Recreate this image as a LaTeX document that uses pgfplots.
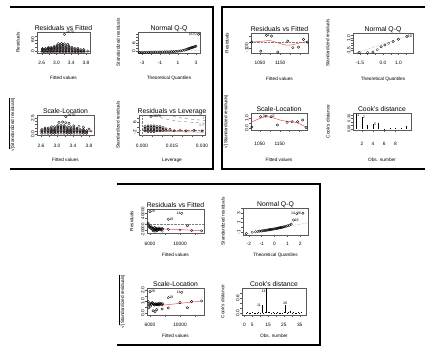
\documentclass[border=0pt]{standalone}
\usepackage{pgfplots}
\pgfplotsset{compat=1.18}
\usepackage{fontspec}
\setmainfont{Liberation Sans}
\newfontfamily\djv{DejaVu Sans}
\definecolor{lowess}{RGB}{232,80,90}
\newcommand{\lf}{\fontsize{3.6}{4}\selectfont}
\newcommand{\sqlab}{{\djv √}$\overline{\mbox{|Standardized residuals|}}$}
\pgfplotsset{
 rp/.style={scale only axis, anchor=north west, clip=false,
  axis line style={black!65, line width=0.45pt},
  tick align=outside, tick pos=left, major tick length=1.8pt,
  tick style={black!65, line width=0.35pt},
  tick label style={font=\fontsize{4.8}{5.2}\selectfont, inner sep=0.6pt},
  yticklabel style={rotate=90, anchor=south},
  every axis title/.style={at={(0.5,1)}, anchor=base, yshift=1.8pt, inner sep=0pt, font=\fontsize{6.8}{7}\selectfont},
  label style={font=\fontsize{4.7}{5}\selectfont, inner sep=0pt},
  xlabel style={anchor=center}, ylabel style={anchor=center},
  scaled ticks=false,
 },
 lab/.style 2 args={xlabel style={at={(axis description cs:0.5,#1)}}, ylabel style={at={(axis description cs:#2,0.5)}}},
 xts/.style={xticklabel style={yshift=#1}},
 pts/.style={only marks, mark=o, mark size=1.25pt, mark options={line width=0.3pt, black}},
 lw/.style={lowess, line width=0.5pt, no marks, smooth},
 gd/.style={gray, densely dotted, line width=0.4pt, no marks},
 cd/.style={gray, dashed, line width=0.4pt, no marks, smooth},
}
\begin{document}
\begin{tikzpicture}
\useasboundingbox (0pt,0pt) rectangle (442pt,353pt);
% panel frames
\draw[line width=1.2pt] (10pt,346pt) -- (213pt,346pt) -- (213pt,184pt) -- (10pt,184pt);
\draw[line width=1.2pt] (425pt,346pt) -- (222pt,346pt) -- (222pt,184pt) -- (425pt,184pt);
\draw[line width=1.2pt] (117pt,169pt) -- (320pt,169pt) -- (320pt,8pt) -- (117pt,8pt);

% ===== Panel 1: Residuals vs Fitted
\begin{axis}[rp, at={(37pt,321pt)}, width=53pt, height=21pt, lab={-1.19}{-0.36}, xts=-5.5pt,
 xmin=2.47, xmax=3.91, ymin=-8, ymax=100,
 xtick={2.6,2.8,3.0,3.2,3.4,3.6,3.8}, xticklabels={2.6,{},3.0,{},3.4,{},3.8},
 ytick={0,20,40,60,80}, yticklabels={0,{},{},60,{}},
 title={Residuals vs Fitted}, xlabel={Fitted values}, ylabel={Residuals}]
\addplot[gd] coordinates {(2.47,0)(3.91,0)};
\addplot[pts] coordinates {
(2.62,-3)(2.62,3)(2.62,9)(2.62,15)
(2.70,-3)(2.70,3)(2.70,9)(2.70,15)
(2.78,-3)(2.78,3)(2.78,9)(2.78,15)(2.78,21)
(2.86,-3)(2.86,3)(2.86,9)(2.86,15)(2.86,21)
(2.94,-3)(2.94,3)(2.94,9)(2.94,15)(2.94,21)(2.94,27)
(3.02,-3)(3.02,3)(3.02,9)(3.02,15)(3.02,21)(3.02,27)(3.02,33)
(3.10,-3)(3.10,3)(3.10,9)(3.10,15)(3.10,21)(3.10,27)(3.10,33)
(3.18,-3)(3.18,3)(3.18,9)(3.18,15)(3.18,21)(3.18,27)(3.18,33)
(3.26,-3)(3.26,3)(3.26,9)(3.26,15)(3.26,21)(3.26,27)
(3.34,-3)(3.34,3)(3.34,9)(3.34,15)(3.34,21)(3.34,27)
(3.42,-3)(3.42,3)(3.42,9)(3.42,15)(3.42,21)
(3.50,-3)(3.50,3)(3.50,9)(3.50,15)
(3.58,-3)(3.58,3)(3.58,9)(3.58,15)
(3.66,-3)(3.66,3)(3.66,9)
(3.74,-3)(3.74,3)(3.74,9)
(3.05,40)(3.14,41)(3.22,39)(3.30,37)(3.85,2)(3.22,88)};
\addplot[lw] coordinates {(2.55,1)(2.9,0)(3.2,-1)(3.5,-2)(3.85,-2)};
\node[font=\lf, anchor=south west, inner sep=0.5pt] at (axis cs:3.24,86) {1670};
\end{axis}

% ===== Panel 1: Normal Q-Q
\begin{axis}[rp, at={(138pt,321pt)}, width=62pt, height=21pt, lab={-1.19}{-0.32}, xts=-5.5pt,
 xmin=-3.45, xmax=3.45, ymin=-1, ymax=13.3,
 xtick={-3,-2,-1,0,1,2,3}, xticklabels={-3,{},-1,{},1,{},3},
 ytick={0,2,4,6,8,10,12}, yticklabels={0,{},{},6,{},{},{}},
 title={Normal Q-Q}, xlabel={Theoretical Quantiles}, ylabel={Standardized residuals}]
\addplot[gd] coordinates {(-3.45,-0.9)(3.45,0.9)};
\addplot[pts] coordinates {
(-3.3,-0.7)(-3.1,-0.65)(-2.9,-0.6)(-2.7,-0.55)(-2.5,-0.5)(-2.3,-0.5)(-2.1,-0.45)(-1.9,-0.45)(-1.7,-0.4)(-1.5,-0.4)
(-1.3,-0.35)(-1.1,-0.35)(-0.9,-0.3)(-0.7,-0.3)(-0.5,-0.25)(-0.3,-0.2)(-0.1,-0.2)(0.1,-0.15)(0.3,-0.1)(0.5,-0.05)
(0.7,0.05)(0.9,0.15)(1.1,0.3)(1.3,0.45)(1.5,0.7)(1.7,0.95)(1.9,1.3)(2.0,1.55)(2.1,1.8)(2.2,2.0)(2.3,2.2)
(2.4,2.4)(2.5,2.6)(2.6,2.8)(2.7,3.0)(2.8,3.2)(2.9,3.4)(3.0,3.7)(3.3,11.8)};
\node[font=\lf, anchor=east, inner sep=0.5pt] at (axis cs:3.15,11.8) {1670};
\end{axis}

% ===== Panel 1: Scale-Location
\begin{axis}[rp, at={(37pt,238pt)}, width=57pt, height=20pt, lab={-1.25}{-0.44}, xts=-6.5pt,
 xmin=2.5, xmax=3.925, ymin=-0.12, ymax=3.0,
 xtick={2.6,2.8,3.0,3.2,3.4,3.6,3.8}, xticklabels={2.6,{},3.0,{},3.4,{},3.8},
 ytick={0,0.5,1,1.5,2,2.5}, yticklabels={0.0,{},{},{},{},2.5},
 title={Scale-Location}, xlabel={Fitted values}, ylabel={\sqlab}]
\addplot[pts] coordinates {
(2.62,0.15)(2.62,0.35)(2.62,0.55)(2.62,0.75)
(2.70,0.15)(2.70,0.35)(2.70,0.55)(2.70,0.75)(2.70,0.95)
(2.78,0.15)(2.78,0.35)(2.78,0.55)(2.78,0.75)(2.78,0.95)
(2.86,0.15)(2.86,0.35)(2.86,0.55)(2.86,0.75)(2.86,0.95)(2.86,1.15)
(2.94,0.15)(2.94,0.35)(2.94,0.55)(2.94,0.75)(2.94,0.95)(2.94,1.15)
(3.02,0.15)(3.02,0.35)(3.02,0.55)(3.02,0.75)(3.02,0.95)(3.02,1.15)(3.02,1.35)
(3.10,0.15)(3.10,0.35)(3.10,0.55)(3.10,0.75)(3.10,0.95)(3.10,1.15)(3.10,1.35)
(3.18,0.15)(3.18,0.35)(3.18,0.55)(3.18,0.75)(3.18,0.95)(3.18,1.15)(3.18,1.35)
(3.26,0.15)(3.26,0.35)(3.26,0.55)(3.26,0.75)(3.26,0.95)(3.26,1.15)
(3.34,0.15)(3.34,0.35)(3.34,0.55)(3.34,0.75)(3.34,0.95)(3.34,1.15)
(3.42,0.15)(3.42,0.35)(3.42,0.55)(3.42,0.75)(3.42,0.95)
(3.50,0.15)(3.50,0.35)(3.50,0.55)(3.50,0.75)(3.50,0.95)
(3.58,0.15)(3.58,0.35)(3.58,0.55)(3.58,0.75)
(3.66,0.15)(3.66,0.35)(3.66,0.55)(3.66,0.75)
(3.74,0.15)(3.74,0.35)(3.74,0.55)
(3.05,1.85)(3.14,1.9)(3.22,1.8)(3.30,1.7)(3.42,1.3)(3.55,1.25)(3.66,1.1)(3.8,0.8)(3.85,0.5)(3.22,2.75)};
\addplot[lw] coordinates {(2.55,0.5)(2.9,0.47)(3.3,0.45)(3.6,0.42)(3.88,0.4)};
\node[font=\lf, anchor=south west, inner sep=0.5pt] at (axis cs:3.24,2.7) {1670};
\end{axis}

% ===== Panel 1: Residuals vs Leverage
\begin{axis}[rp, at={(139pt,238pt)}, width=66pt, height=20pt, lab={-1.25}{-0.32}, xts=-6.5pt,
 xmin=-0.0015, xmax=0.0315, ymin=-4.4, ymax=12.4,
 xtick={0,0.005,0.01,0.015,0.02,0.025,0.03}, xticklabels={0.000,{},{},0.015,{},{},0.030},
 ytick={-2,2,6,10}, yticklabels={-2,{},6,{}},
 title={Residuals vs Leverage}, xlabel={Leverage}, ylabel={Standardized residuals}]
\addplot[gd] coordinates {(-0.0015,0)(0.0315,0)};
\addplot[gd] coordinates {(0,-4.4)(0,12.4)};
\addplot[cd] coordinates {(0.0065,12.37)(0.008,11.1)(0.01,9.95)(0.0125,8.87)(0.015,8.09)(0.0175,7.47)(0.02,6.98)(0.025,6.24)(0.03,5.69)(0.0315,5.55)};
\addplot[cd] coordinates {(0.0127,12.37)(0.015,11.4)(0.0175,10.6)(0.02,9.9)(0.025,8.83)(0.03,8.05)(0.0315,7.85)};
\addplot[pts] coordinates {
(0.0015,-1)(0.0015,0.2)(0.0015,1.4)(0.0015,2.6)
(0.003,-1.6)(0.003,-0.4)(0.003,0.8)(0.003,2)(0.003,3.2)
(0.0045,-1.6)(0.0045,-0.4)(0.0045,0.8)(0.0045,2)(0.0045,3.2)
(0.006,-1.6)(0.006,-0.4)(0.006,0.8)(0.006,2)(0.006,3.2)
(0.0075,-1)(0.0075,0.2)(0.0075,1.4)(0.0075,2.6)
(0.009,-1)(0.009,0.2)(0.009,1.4)(0.009,2.6)
(0.0105,-0.6)(0.0105,0.6)(0.0105,1.8)
(0.012,-0.4)(0.012,0.8)
(0.014,0.3)(0.016,-0.8)(0.019,-0.2)(0.022,-1)(0.026,-0.5)(0.03,-0.9)
(0.0045,11.3)};
\addplot[lw] coordinates {(0.001,-1.0)(0.008,-1.2)(0.016,-1.5)(0.024,-1.8)(0.031,-2.0)};
\node[font=\lf, anchor=west, inner sep=0.5pt] at (axis cs:0.0052,11.3) {1670};
\node[font=\lf, text=gray, anchor=north east, inner sep=0.5pt] at (axis cs:0.0315,5.3) {0.5};
\node[font=\lf, text=gray, anchor=south east, inner sep=0.5pt] at (axis cs:0.0315,8.1) {1};
\end{axis}

% ===== Panel 2: Residuals vs Fitted
\begin{axis}[rp, at={(251pt,320pt)}, width=57pt, height=20pt, lab={-1.3}{-0.42}, xts=-5.5pt,
 xmin=1006, xmax=1287, ymin=-190, ymax=150,
 xtick={1050,1100,1150,1200,1250}, xticklabels={1050,{},1150,{},{}},
 ytick={-100,0,100}, yticklabels={-100,{},{}},
 title={Residuals vs Fitted}, xlabel={Fitted values}, ylabel={Residuals}]
\addplot[gd] coordinates {(1006,0)(1287,0)};
\addplot[pts] coordinates {(1010,-5)(1054,-158)(1082,109)(1107,97)(1138,-175)(1187,12)(1212,-100)(1240,-90)(1265,41)(1283,-5)};
\addplot[lw] coordinates {(1010,-5)(1060,10)(1100,20)(1140,-20)(1180,-55)(1210,-50)(1250,-15)(1283,5)};
\node[font=\lf, anchor=west, inner sep=0.8pt] at (axis cs:1082,109) {3};
\end{axis}

% ===== Panel 2: Normal Q-Q
\begin{axis}[rp, at={(353pt,320pt)}, width=60pt, height=20pt, lab={-1.3}{-0.42}, xts=-5.5pt,
 xmin=-1.95, xmax=1.95, ymin=-2, ymax=2,
 xtick={-1.5,-1,-0.5,0,0.5,1,1.5}, xticklabels={-1.5,{},{},0.0,{},1.0,{}},
 ytick={-1.5,-1,-0.5,0,0.5,1,1.5}, yticklabels={-1.5,{},{},{},{},1.0,{}},
 title={Normal Q-Q}, xlabel={Theoretical Quantiles}, ylabel={Standardized residuals}]
\addplot[gd] coordinates {(-1.75,-2.0)(1.95,1.75)};
\addplot[pts] coordinates {(-1.547,-1.9)(-1.0,-1.88)(-0.655,-1.8)(-0.375,-1.35)(-0.123,-0.75)(0.123,-0.4)(0.375,-0.05)(0.655,0.3)(1.0,0.75)(1.547,1.3)};
\node[font=\lf, anchor=west, inner sep=0.8pt] at (axis cs:1.547,1.4) {10};
\end{axis}

% ===== Panel 2: Scale-Location
\begin{axis}[rp, at={(251pt,240pt)}, width=56pt, height=17pt, lab={-1.76}{-0.46}, xts=-10pt,
 xmin=1006, xmax=1287, ymin=-0.2, ymax=1.5,
 xtick={1050,1100,1150,1200,1250}, xticklabels={1050,{},1150,{},{}},
 ytick={0,0.5,1}, yticklabels={0.0,{},1.0},
 title={Scale-Location}, xlabel={Fitted values}, ylabel={\sqlab}]
\addplot[pts] coordinates {(1010,0.1)(1054,1.13)(1082,1.2)(1107,1.13)(1138,0.3)(1187,0.57)(1212,0.63)(1240,0.63)(1265,0.8)(1283,0.05)};
\addplot[lw] coordinates {(1010,0.6)(1050,0.95)(1085,1.12)(1120,1.0)(1160,0.75)(1200,0.65)(1240,0.5)(1283,0.08)};
\node[font=\lf, anchor=west, inner sep=0.8pt] at (axis cs:1060,1.2) {3};
\node[font=\lf, anchor=west, inner sep=0.8pt] at (axis cs:1110,1.2) {5};
\end{axis}

% ===== Panel 2: Cook's distance
\begin{axis}[rp, at={(353pt,240pt)}, width=58pt, height=17pt, lab={-1.76}{-0.43}, xts=-10pt,
 xmin=0.4, xmax=10.8, ymin=-0.03, ymax=0.45,
 xtick={2,4,6,8}, xticklabels={2,4,6,8},
 ytick={0,0.1,0.2,0.3,0.4}, yticklabels={0.00,{},{},0.30,{}},
 yticklabel style={font=\fontsize{4.0}{4.4}\selectfont},
 title={Cook's distance}, xlabel={Obs. number}, ylabel={Cook's distance}]
\addplot[ycomb, black, line width=0.45pt, no marks] coordinates {(1,0.41)(2,0.34)(3,0.10)(4,0.13)(5,0.16)(6,0.01)(7,0.02)(8,0.03)(9,0.03)(10,0.09)};
\node[font=\lf, anchor=west, inner sep=0.8pt] at (axis cs:1,0.40) {1};
\node[font=\lf, anchor=west, inner sep=0.8pt] at (axis cs:2,0.33) {2};
\node[font=\lf, anchor=west, inner sep=0.8pt] at (axis cs:4,0.14) {5};
\end{axis}

% ===== Panel 3: Residuals vs Fitted
\begin{axis}[rp, at={(147pt,144pt)}, width=57pt, height=24pt, lab={-0.92}{-0.27}, xts=-6.5pt,
 xmin=5600, xmax=13200, ymin=-30600, ymax=54100,
 xtick={6000,8000,10000,12000}, xticklabels={6000,{},10000,{}},
 ytick={-20000,0,20000,40000}, yticklabels={-20000,{},{},40000},
 yticklabel style={font=\fontsize{4.4}{4.8}\selectfont},
 title={Residuals vs Fitted}, xlabel={Fitted values}, ylabel={Residuals}]
\addplot[gd] coordinates {(5600,0)(13200,0)};
\addplot[pts] coordinates {
(5750,3500)(5830,-2000)(5900,-8000)(5980,-12000)(6060,-6000)(6140,-15000)(6220,-10000)(6300,-18000)
(6380,-13000)(6460,-16000)(6540,-20000)(6620,-11000)(6700,-17000)(6780,-14000)(6860,-19000)(6940,-15500)
(7020,-21000)(7100,-17000)(7180,-13000)(7260,-19000)(7340,-16000)(7450,-18000)(7560,-14000)(7700,-17000)
(8440,-17600)(6000,44600)(8440,17700)(10230,38900)(10000,-20000)(10980,-5000)(11560,-22000)(12890,-23000)
(6420,-23000)(6660,-24000)(6900,-22000)(7620,-24000)};
\addplot[lw] coordinates {(5750,-5000)(6200,-10000)(6700,-14000)(7300,-16000)(8000,-16500)(9000,-17500)(10000,-18500)(11000,-20000)(12890,-22500)};
\node[font=\lf, anchor=west, inner sep=0.8pt] at (axis cs:6000,44600) {26};
\node[font=\lf, anchor=east, inner sep=0.8pt] at (axis cs:10230,38900) {14};
\node[font=\lf, anchor=west, inner sep=0.8pt] at (axis cs:8440,17700) {18};
\end{axis}

% ===== Panel 3: Normal Q-Q
\begin{axis}[rp, at={(243pt,145pt)}, width=65pt, height=27pt, lab={-0.74}{-0.31}, xts=-4.5pt,
 xmin=-2.45, xmax=2.6, ymin=-1.63, ymax=4.05,
 xtick={-2,-1,0,1,2}, xticklabels={-2,-1,0,1,2},
 ytick={-1,0,1,2,3,4}, yticklabels={-1,{},1,{},3,{}},
 title={Normal Q-Q}, xlabel={Theoretical Quantiles}, ylabel={Standardized residuals}]
\addplot[gd] coordinates {(-2.45,-1.53)(2.6,0.94)};
\addplot[pts] coordinates {
(-2.200,-1.35)(-1.732,-1.05)(-1.480,-0.95)(-1.298,-0.88)(-1.150,-0.82)(-1.024,-0.78)(-0.913,-0.74)(-0.812,-0.70)(-0.719,-0.66)
(-0.631,-0.62)(-0.549,-0.58)(-0.469,-0.55)(-0.393,-0.52)(-0.319,-0.48)(-0.246,-0.45)(-0.175,-0.42)(-0.105,-0.38)(-0.035,-0.35)
(0.035,-0.32)(0.105,-0.28)(0.175,-0.25)(0.246,-0.21)(0.319,-0.17)(0.393,-0.13)(0.469,-0.08)(0.549,-0.03)(0.631,0.02)
(0.719,0.08)(0.812,0.15)(0.913,0.22)(1.024,0.30)(1.150,0.42)(1.298,0.65)(1.480,1.5)(1.732,2.85)(2.200,2.95)};
\node[font=\lf, anchor=west, inner sep=0.8pt] at (axis cs:1.48,1.5) {18};
\node[font=\lf, anchor=east, inner sep=0.8pt] at (axis cs:1.68,2.9) {14};
\node[font=\lf, anchor=east, inner sep=0.8pt] at (axis cs:2.15,3.0) {26};
\end{axis}

% ===== Panel 3: Scale-Location
\begin{axis}[rp, at={(147pt,65pt)}, width=57pt, height=27pt, lab={-0.78}{-0.44}, xts=-5.5pt,
 xmin=5600, xmax=13200, ymin=-0.17, ymax=2.17,
 xtick={6000,8000,10000,12000}, xticklabels={6000,{},10000,{}},
 ytick={0,0.5,1,1.5,2}, yticklabels={0.0,{},1.0,{},2.0},
 title={Scale-Location}, xlabel={Fitted values}, ylabel={\sqlab}]
\addplot[pts] coordinates {
(5750,1.0)(5830,0.45)(5900,0.7)(5980,0.8)(6060,0.6)(6140,0.85)(6220,0.75)(6300,0.9)(6380,0.8)(6460,0.82)
(6540,0.72)(6620,0.7)(6700,0.8)(6780,0.78)(6860,0.75)(6940,0.8)(7020,0.72)(7100,0.8)(7180,0.7)(7260,0.85)
(7340,0.78)(7450,0.82)(7560,0.72)(7700,0.8)(8440,0.45)(6000,1.85)(8440,1.33)(10230,1.8)(10000,0.9)(10980,0.46)
(11560,1.0)(12890,1.05)(6420,0.2)(6660,0.12)(6900,0.3)(7620,0.35)};
\addplot[lw] coordinates {(5750,0.95)(6200,0.78)(6700,0.68)(7300,0.66)(8000,0.7)(9000,0.77)(10000,0.84)(11000,0.91)(12890,1.04)};
\node[font=\lf, anchor=west, inner sep=0.8pt] at (axis cs:6000,1.85) {26};
\node[font=\lf, anchor=east, inner sep=0.8pt] at (axis cs:10230,1.8) {14};
\node[font=\lf, anchor=west, inner sep=0.8pt] at (axis cs:8440,1.33) {18};
\end{axis}

% ===== Panel 3: Cook's distance
\begin{axis}[rp, at={(242pt,65pt)}, width=64pt, height=27pt, lab={-0.78}{-0.30}, xts=-5.5pt,
 xmin=-1.5, xmax=39, ymin=-0.08, ymax=1.0,
 xtick={0,5,10,15,20,25,30,35}, xticklabels={0,5,{},15,{},25,{},35},
 ytick={0,0.2,0.4,0.6,0.8}, yticklabels={0.0,{},{},0.6,{}},
 title={Cook's distance}, xlabel={Obs. number}, ylabel={Cook's distance}]
\addplot[ycomb, black, line width=0.45pt, no marks] coordinates {
(1,0.01)(2,0.02)(3,0.005)(4,0.01)(5,0.03)(6,0.01)(7,0.005)(8,0.01)(9,0.02)(10,0.01)(11,0.30)(12,0.01)
(13,0.02)(14,0.98)(15,0.02)(16,0.04)(17,0.01)(18,0.03)(19,0.005)(20,0.01)(21,0.02)(22,0.01)(23,0.005)(24,0.01)
(25,0.02)(26,0.30)(27,0.01)(28,0.03)(29,0.06)(30,0.01)(31,0.02)(32,0.01)(33,0.005)(34,0.02)(35,0.01)(36,0.03)};
\node[font=\lf, anchor=east, inner sep=0.8pt] at (axis cs:11,0.30) {11};
\node[font=\lf, anchor=north east, inner sep=0.6pt] at (axis cs:14,0.97) {14};
\node[font=\lf, anchor=south, inner sep=0.5pt] at (axis cs:26,0.30) {26};
\end{axis}
\end{tikzpicture}
\end{document}
